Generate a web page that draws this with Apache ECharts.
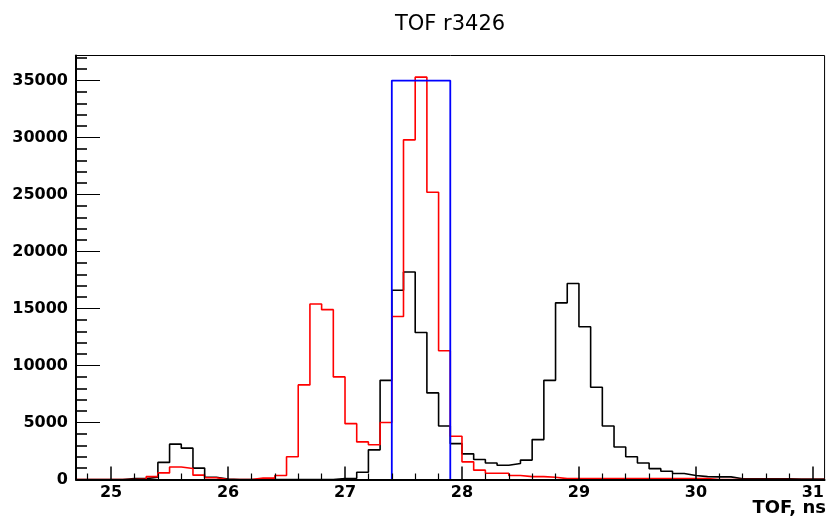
<!DOCTYPE html>
<html>
<head>
<meta charset="utf-8">
<script src="https://cdn.jsdelivr.net/npm/echarts@6/dist/echarts.min.js"></script>
</head>
<body style="margin:0;background:#fff">
<div id="chart" style="width:827px;height:520px"></div>
<script>
// Histogram binning (TOF, ns): 64 bins of 0.1 ns starting at 24.7
const binStart = 24.7;
const binWidth = 0.1;

// Black histogram counts, one per bin (24.7, 24.8, ... 31.0)
const blackCounts = [
  0, 0, 0,
  0, 80, 80, 200, 1500, 3100, 2750, 1000, 200, 50,
  0, 0, 0, 0, 0, 0, 0, 0, 0, 80,
  100, 640, 2600, 8700, 16600, 18200, 12900, 7600, 4700, 3150,
  2250, 1750, 1450, 1250, 1400, 1700, 3500, 8700, 15500, 17200,
  13400, 8100, 4700, 2850, 2000, 1450, 950, 730, 520, 350,
  250, 230, 230, 60, 60, 60, 60, 60, 50, 50,
  40
];

// Red histogram counts, one per bin
const redCounts = [
  0, 0, 0,
  0, 0, 50, 250, 580, 1100, 970, 380, 150, 0,
  0, 0, 120, 120, 350, 2000, 8300, 15400, 14900, 9000,
  4900, 3300, 3050, 5000, 14300, 29800, 35300, 25200, 11300, 3800,
  1550, 820, 550, 550, 350, 250, 250, 200, 80, 80,
  80, 80, 80, 80, 80, 80, 80, 80, 80, 80,
  80, 0, 0, 0, 0, 0, 0, 0, 0, 0,
  0
];

// Blue selection box
const boxEdges = [27.4, 27.9];
const boxHeight = 35000;

// Axis ticks
const xMajorTicks = [25, 26, 27, 28, 29, 30, 31];
const xMinorTicks = [24.8, 25.2, 25.4, 25.6, 25.8, 26.2, 26.4, 26.6, 26.8, 27.2, 27.4, 27.6, 27.8,
  28.2, 28.4, 28.6, 28.8, 29.2, 29.4, 29.6, 29.8, 30.2, 30.4, 30.6, 30.8];
const yMajorTicks = [0, 5000, 10000, 15000, 20000, 25000, 30000, 35000];
const yMinorTicks = [1000, 2000, 3000, 4000, 6000, 7000, 8000, 9000, 11000, 12000, 13000, 14000,
  16000, 17000, 18000, 19000, 21000, 22000, 23000, 24000, 26000, 27000, 28000, 29000,
  31000, 32000, 33000, 34000, 36000, 37000];

const xMin = 24.7, xMax = 31.1, yMax = 37200;

function steps(vals) {
  const pts = [];
  for (let i = 0; i < vals.length; i++) {
    const x0 = +(binStart + i * binWidth).toFixed(2);
    const x1 = +(binStart + (i + 1) * binWidth).toFixed(2);
    pts.push([x0, vals[i]], [x1, vals[i]]);
  }
  return pts;
}

const boxPts = [[boxEdges[0], 0], [boxEdges[0], boxHeight], [boxEdges[1], boxHeight], [boxEdges[1], 0]];

const labelFont = { fontFamily: 'DejaVu Sans', fontWeight: 'bold', fontSize: 16, color: '#000' };
const plain = v => String(v);

const chart = echarts.init(document.getElementById('chart'), null, { renderer: 'canvas' });
chart.setOption({
  animation: false,
  backgroundColor: '#fff',
  title: {
    text: 'TOF r3426',
    left: 390,
    top: 9,
    textStyle: { fontFamily: 'DejaVu Sans', fontWeight: 'normal', fontSize: 21, color: '#000' }
  },
  grid: {
    left: 76, right: 2, top: 55.5, bottom: 40.5,
    show: true, borderColor: '#000', borderWidth: 1, backgroundColor: 'transparent'
  },
  xAxis: [
    {
      type: 'value', min: xMin, max: xMax, position: 'bottom', z: 10,
      axisLine: { onZero: false, lineStyle: { color: '#000', width: 2 } },
      splitLine: { show: false },
      axisTick: { inside: true, length: 13, customValues: xMajorTicks, lineStyle: { color: '#000', width: 1.5 } },
      axisLabel: Object.assign({ customValues: xMajorTicks, margin: 5, formatter: plain }, labelFont)
    },
    {
      type: 'value', min: xMin, max: xMax, position: 'bottom', z: 10,
      axisLine: { show: false },
      splitLine: { show: false },
      axisTick: { inside: true, length: 6, customValues: xMinorTicks, lineStyle: { color: '#000', width: 1.2 } },
      axisLabel: { show: false }
    }
  ],
  yAxis: [
    {
      type: 'value', min: 0, max: yMax, position: 'left', z: 10,
      axisLine: { show: true, onZero: false, lineStyle: { color: '#000', width: 2 } },
      splitLine: { show: false },
      axisTick: { show: true, inside: true, length: 24, customValues: yMajorTicks, lineStyle: { color: '#000', width: 1 } },
      axisLabel: Object.assign({ customValues: yMajorTicks, margin: 8, formatter: plain }, labelFont)
    },
    {
      type: 'value', min: 0, max: yMax, position: 'left', z: 10,
      axisLine: { show: false },
      splitLine: { show: false },
      axisTick: { show: true, inside: true, length: 11, customValues: yMinorTicks, lineStyle: { color: '#000', width: 1.6 } },
      axisLabel: { show: false }
    }
  ],
  graphic: [
    {
      type: 'text', right: 1, top: 499, z: 20,
      style: { text: 'TOF, ns', font: 'bold 18px "DejaVu Sans"', fill: '#000' }
    }
  ],
  series: [
    {
      type: 'line', name: 'black', xAxisIndex: 0, yAxisIndex: 0, data: steps(blackCounts),
      showSymbol: false, symbol: 'none', lineStyle: { color: '#000', width: 1.6 }, z: 2
    },
    {
      type: 'line', name: 'red', xAxisIndex: 0, yAxisIndex: 0, data: steps(redCounts),
      showSymbol: false, symbol: 'none', lineStyle: { color: '#ff0000', width: 1.6 }, z: 3
    },
    {
      type: 'line', name: 'blue', xAxisIndex: 0, yAxisIndex: 0, data: boxPts,
      showSymbol: false, symbol: 'none', lineStyle: { color: '#0000ff', width: 1.8 }, z: 4
    }
  ]
});
</script>
</body>
</html>
